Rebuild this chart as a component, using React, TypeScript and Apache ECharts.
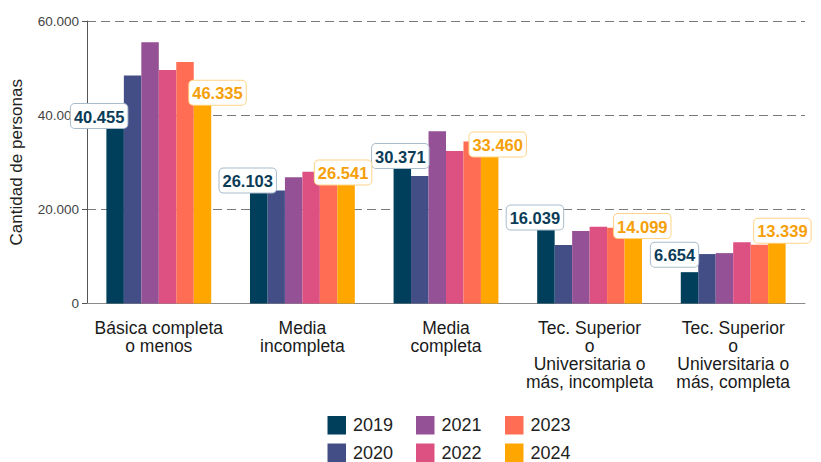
import React, { useEffect, useRef } from "react";
import * as echarts from "echarts";

const categories = [
  "Básica completa\no menos",
  "Media\nincompleta",
  "Media\ncompleta",
  "Tec. Superior\no\nUniversitaria o\nmás, incompleta",
  "Tec. Superior\no\nUniversitaria o\nmás, completa",
];

const years = ["2019", "2020", "2021", "2022", "2023", "2024"];

const v2019 = [40455, 26103, 30371, 16039, 6654];
const v2020 = [48400, 24000, 27100, 12400, 10500];
const v2021 = [55500, 26800, 36600, 15400, 10700];
const v2022 = [49600, 28000, 32400, 16300, 13000];
const v2023 = [51300, 26900, 34400, 16100, 12500];
const v2024 = [46335, 26541, 33460, 14099, 13339];

const yTicks = [0, 20000, 40000, 60000];

const colors = ["#003f5c", "#444e86", "#955196", "#dd5182", "#ff6e54", "#ffa600"];

// label nudges (style only), [dx, dy] relative to bar top
const nudge2019 = [[-16, 15], [-11, 12], [-2, 7.5], [-11, 1.5], [-15, -5.5]];
const nudge2024 = [[15, 19.5], [-3, 6], [8, 10.5], [9, 1], [5.5, 2]];

// legend layout (style only): column-major, 2 rows x 3 columns
const legendLefts = [322.5, 322.5, 411, 411, 500, 500];
const legendTops = [411, 438.5, 411, 438.5, 411, 438.5];

const FONT = "'Liberation Sans', Arial, Helvetica, sans-serif";

const fmt = (v: number) =>
  String(Math.round(v)).replace(/\B(?=(\d{3})+(?!\d))/g, ".");

export default function App() {
  const ref = useRef<HTMLDivElement>(null);

  useEffect(() => {
    if (!ref.current) return;
    const chart = echarts.init(ref.current, undefined, { renderer: "svg" });
    const allValues = [v2019, v2020, v2021, v2022, v2023, v2024];

    const labelStyle = (color: string, border: string) => ({
      show: true,
      position: "top" as const,
      distance: 0,
      formatter: (p: any) => fmt(p.value),
      color,
      fontFamily: FONT,
      fontWeight: "bold" as const,
      fontSize: 16.5,
      backgroundColor: "#ffffff",
      borderColor: border,
      borderWidth: 1,
      borderRadius: 4,
      padding: [4, 3, 3, 3],
    });

    const series = years.map((y, i) => {
      const vals = allValues[i];
      let data: any[] = vals;
      if (i === 0) {
        data = vals.map((v, k) => ({
          value: v,
          label: { offset: nudge2019[k] },
        }));
      } else if (i === 5) {
        data = vals.map((v, k) => ({
          value: v,
          label: { offset: nudge2024[k] },
        }));
      }
      return {
        name: y,
        type: "bar",
        data,
        barGap: "0%",
        barCategoryGap: "27%",
        itemStyle: { color: colors[i] },
        z: i === 0 || i === 5 ? 3 : 2,
        label:
          i === 0
            ? labelStyle("#0b3c57", "#a9bccb")
            : i === 5
            ? labelStyle("#f5a00a", "#ffd487")
            : { show: false },
      };
    });

    const legends = years.map((y, i) => ({
      data: [y],
      orient: "horizontal" as const,
      left: legendLefts[i],
      top: legendTops[i],
      itemWidth: 18.5,
      itemHeight: 18.5,
      icon: "rect",
      textStyle: {
        fontFamily: FONT,
        fontSize: 18,
        lineHeight: 18.5,
        color: "#222",
        padding: [0, 0, 0, 2],
      },
      selectedMode: false,
    }));

    chart.setOption({
      animation: false,
      backgroundColor: "#ffffff",
      legend: legends,
      grid: { left: 86, right: 16, top: 21, bottom: 158.5, containLabel: false },
      xAxis: {
        type: "category",
        data: categories,
        axisLine: { show: true, lineStyle: { color: "#8a8a8a", width: 1 } },
        axisTick: { show: false },
        axisLabel: {
          interval: 0,
          margin: 15,
          fontFamily: FONT,
          fontSize: 17.5,
          lineHeight: 18,
          color: "#1a1a1a",
        },
      },
      yAxis: {
        type: "value",
        min: yTicks[0],
        max: yTicks[yTicks.length - 1],
        interval: 20000,
        name: "Cantidad de personas",
        nameLocation: "middle",
        nameGap: 62,
        nameTextStyle: { fontFamily: FONT, fontSize: 17, color: "#222" },
        axisLine: { show: true, lineStyle: { color: "#555", width: 1 } },
        axisTick: { show: true, length: 5, lineStyle: { color: "#555" } },
        axisLabel: {
          margin: 8,
          fontFamily: FONT,
          fontSize: 13.5,
          color: "#444",
          formatter: (v: number) => fmt(v),
        },
        splitLine: {
          show: true,
          lineStyle: { color: "#7a7a7a", type: [9, 5], width: 1 },
        },
      },
      series,
    });

    return () => chart.dispose();
  }, []);

  return (
    <div
      ref={ref}
      style={{ position: "fixed", left: 0, top: 0, width: 821, height: 462 }}
    />
  );
}
